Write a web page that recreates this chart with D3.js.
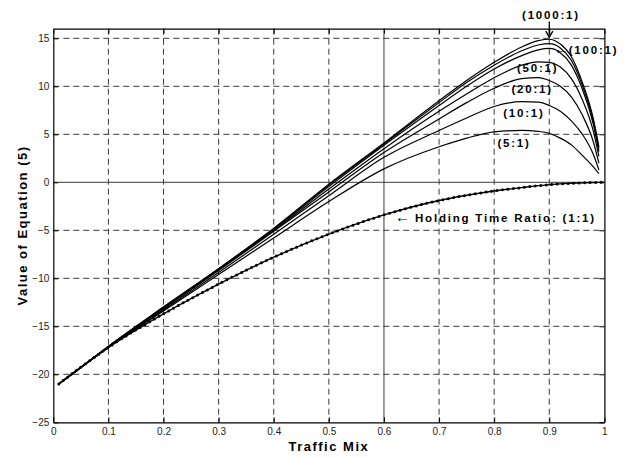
<!DOCTYPE html>
<html><head><meta charset="utf-8">
<script src="https://cdn.jsdelivr.net/npm/d3@7/dist/d3.min.js"></script>
<style>
body{margin:0;background:#fff;}
svg{display:block;font-family:"Liberation Sans",Arial,Helvetica,sans-serif;}
</style></head>
<body><svg id="c" width="627" height="458"></svg>
<script>
// ---- data ----
const trafficMix = [0.01,0.05,0.1,0.2,0.3,0.4,0.5,0.6,0.7,0.75,0.8,0.85,0.88,0.9,0.92,0.94,0.96,0.98,0.99,1.0];
const ratio1000 = [-21,-19.3,-17.1,-13.0,-9.0,-4.8,-0.2,4.1,8.5,10.6,12.5,14.1,14.75,14.9,14.4,13.1,10.4,6.6,3.7,null];
const ratio500  = [-21,-19.3,-17.1,-13.0,-9.0,-4.8,-0.3,4.0,8.3,10.4,12.2,13.7,14.3,14.45,14.0,12.7,10.1,6.3,3.5,null];
const ratio100  = [-21,-19.3,-17.1,-13.05,-9.05,-4.9,-0.45,3.85,8.0,10.0,11.8,13.2,13.8,13.95,13.5,12.2,9.7,6.0,3.2,null];
const ratio50   = [-21,-19.3,-17.1,-13.1,-9.1,-5.0,-0.7,3.5,7.4,9.2,10.9,12.2,12.55,12.5,12.0,10.8,8.6,5.3,2.7,null];
const ratio20   = [-21,-19.3,-17.15,-13.2,-9.2,-5.1,-1.0,3.1,6.6,8.3,9.8,10.8,10.9,10.6,10.0,8.9,7.0,4.2,2.0,null];
const ratio10   = [-21,-19.3,-17.2,-13.3,-9.4,-5.4,-1.4,2.6,5.4,6.7,7.9,8.4,8.35,8.0,7.4,6.4,5.0,2.9,1.3,null];
const ratio5    = [-21,-19.3,-17.2,-13.4,-9.6,-5.8,-2.0,1.4,3.7,4.6,5.25,5.4,5.3,5.1,4.6,3.9,2.8,1.6,0.9,null];
const ratio1    = [-21,-19.25,-17.2,-13.7,-10.6,-7.8,-5.4,-3.4,-1.9,-1.35,-0.9,-0.55,-0.35,-0.25,-0.16,-0.1,-0.05,-0.02,-0.01,0];
const xTicks = [0,0.1,0.2,0.3,0.4,0.5,0.6,0.7,0.8,0.9,1];
const yTicks = [-25,-20,-15,-10,-5,0,5,10,15];
const seriesNames = ["(1000:1)","(500:1)","(100:1)","(50:1)","(20:1)","(10:1)","(5:1)"];
const seriesValues = [ratio1000,ratio500,ratio100,ratio50,ratio20,ratio10,ratio5];

// ---- chart ----
const svg = d3.select("#c");
svg.append("rect").attr("width",627).attr("height",458).attr("fill","#fff");
const x = d3.scaleLinear().domain([0,1]).range([53.3,604.4]);
const y = d3.scaleLinear().domain([-25,16]).range([422.3,28.7]);
const L = x.range()[0], R = x.range()[1], T = y.range()[1], B = y.range()[0];

// grid
const g = svg.append("g");
xTicks.filter(t=>t>0&&t<1).forEach(t=>{
  g.append("line").attr("x1",x(t)).attr("x2",x(t)).attr("y1",T).attr("y2",B)
   .attr("stroke","#3a3a3a").attr("stroke-width",1)
   .attr("stroke-dasharray", Math.abs(t-0.6)<1e-9 ? null : "6,4");
});
yTicks.filter(t=>t>-25).forEach(t=>{
  g.append("line").attr("x1",L).attr("x2",R).attr("y1",y(t)).attr("y2",y(t))
   .attr("stroke","#3a3a3a").attr("stroke-width",1)
   .attr("stroke-dasharray", t===0 ? null : "6,4");
});

// axes
const fmtX = d=> d===0?"0":d===1?"1":d3.format(".1f")(d);
const ax = svg.append("g").attr("transform",`translate(0,${B})`)
  .call(d3.axisBottom(x).tickValues(xTicks).tickFormat(fmtX).tickSizeInner(-5).tickSizeOuter(0).tickPadding(6));
const ay = svg.append("g").attr("transform",`translate(${L},0)`)
  .call(d3.axisLeft(y).tickValues(yTicks).tickSizeInner(-5).tickSizeOuter(0).tickPadding(4));
const axT = svg.append("g").attr("transform",`translate(0,${T})`)
  .call(d3.axisTop(x).tickValues(xTicks).tickFormat("").tickSizeInner(-5).tickSizeOuter(0));
const ayR = svg.append("g").attr("transform",`translate(${R},0)`)
  .call(d3.axisRight(y).tickValues(yTicks).tickFormat("").tickSizeInner(-5).tickSizeOuter(0));
[ax,ay,axT,ayR].forEach(a=>{
  a.select(".domain").attr("stroke","#000").attr("stroke-width",1.2);
  a.selectAll(".tick line").attr("stroke","#000");
  a.selectAll(".tick text").attr("font-size",10).attr("fill","#222")
   .attr("font-family","'Liberation Sans',Arial,sans-serif");
});

// curves
const line = d3.line().defined(d=>d[1]!==null).x(d=>x(d[0])).y(d=>y(d[1])).curve(d3.curveMonotoneX);
seriesValues.forEach((vals,i)=>{
  svg.append("path").datum(trafficMix.map((t,j)=>[t,vals[j]]))
    .attr("d",line).attr("fill","none").attr("stroke","#000").attr("stroke-width",1.2);
});
const p1 = trafficMix.map((t,j)=>[t,ratio1[j]]);
svg.append("path").datum(p1).attr("d",line).attr("fill","none").attr("stroke","#000").attr("stroke-width",1.4);
svg.append("path").datum(p1).attr("d",line).attr("fill","none").attr("stroke","#000")
  .attr("stroke-width",3).attr("stroke-linecap","round").attr("stroke-dasharray","0,5.5");

// labels
const lab = (txt,px,py,anchor,arrow)=> {
  const t = svg.append("text").attr("x",px).attr("y",py).attr("text-anchor",anchor||"middle")
    .attr("font-size",11.5).attr("font-weight","bold").attr("letter-spacing","1.8px").attr("fill","#000");
  if (arrow) t.append("tspan").attr("font-size",15).attr("font-weight","normal").attr("letter-spacing","0px").text(arrow);
  t.append("tspan").text(txt);
  return t;
};
lab("(1000:1)", x(0.903), y(17.0));
svg.append("line").attr("x1",x(0.9)).attr("x2",x(0.9)).attr("y1",y(16.75)).attr("y2",y(15.3))
  .attr("stroke","#000").attr("stroke-width",1.3);
svg.append("path").attr("d",`M${x(0.9)-3.5},${y(15.75)} L${x(0.9)},${y(15.1)} L${x(0.9)+3.5},${y(15.75)}`)
  .attr("fill","none").attr("stroke","#000").attr("stroke-width",1.3);
lab("(100:1)", x(0.908), y(13.4), "start", "\u2190");
lab("(50:1)", x(0.879), y(11.5));
lab("(20:1)", x(0.869), y(9.3));
lab("(10:1)", x(0.854), y(6.8));
lab("(5:1)", x(0.836), y(3.67));
lab(" Holding Time Ratio: (1:1)", x(0.62), y(-4.1), "start", "\u2190");

// axis titles
svg.append("text").attr("x",(L+R)/2).attr("y",451).attr("text-anchor","middle")
  .attr("font-size",13).attr("font-weight","bold").attr("letter-spacing","1.5px").text("Traffic Mix");
svg.append("text").attr("transform",`translate(27,${(T+B)/2}) rotate(-90)`).attr("text-anchor","middle")
  .attr("font-size",13).attr("font-weight","bold").attr("letter-spacing","1.5px").text("Value of Equation (5)");
</script></body></html>
